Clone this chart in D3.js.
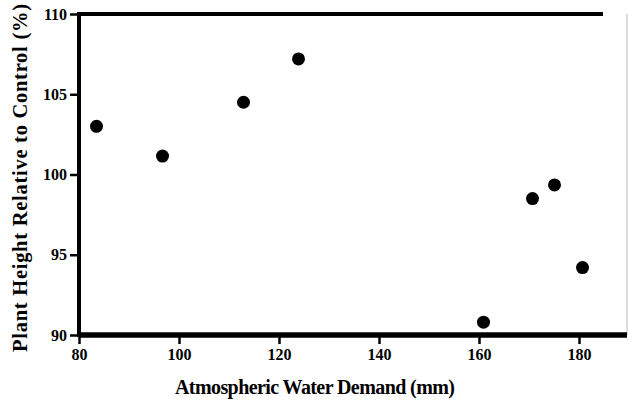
<!DOCTYPE html>
<html>
<head>
<meta charset="utf-8">
<script src="https://cdn.jsdelivr.net/npm/d3@7"></script>
<style>
  body { margin: 0; background: #fff; }
  text { font-family: "Liberation Serif", "DejaVu Serif", serif; font-weight: bold; fill: #000; }
</style>
</head>
<body>
<svg id="chart" width="629" height="404"></svg>
<script>
// atmospheric water demand (mm) and plant height relative to control (%)
var demand = [83.5, 96.7, 112.9, 123.9, 160.9, 170.7, 175.1, 180.7];
var plantHeight = [103.0, 101.15, 104.5, 107.2, 90.8, 98.5, 99.35, 94.2];
var xTicks = [80, 100, 120, 140, 160, 180];
var yTicks = [90, 95, 100, 105, 110];

var svg = d3.select("#chart");
var pLeft = 79, pRight = 627, pTop = 14, pBottom = 335;

var x = d3.scaleLinear().domain([80, 189.6]).range([pLeft, pRight]);
var y = d3.scaleLinear().domain([90, 110]).range([pBottom, pTop]);

// frame: faint right edge, heavy top
svg.append("line")
    .attr("x1", pRight).attr("x2", pRight)
    .attr("y1", pTop).attr("y2", pBottom)
    .attr("stroke", "#bbb").attr("stroke-width", 1);
svg.append("line")
    .attr("x1", pLeft).attr("x2", 603)
    .attr("y1", pTop).attr("y2", pTop)
    .attr("stroke", "#000").attr("stroke-width", 4);

function styleTicks(g){
  g.selectAll(".tick line").attr("stroke-width", 2.5);
  g.selectAll("text")
    .style("font-size", "16px")
    .style("font-family", "Liberation Serif, serif")
    .style("font-weight", "bold")
    .attr("fill", "#000");
}

var xAxis = svg.append("g")
    .attr("transform", "translate(0," + pBottom + ")")
    .call(d3.axisBottom(x).tickValues(xTicks).tickSize(9).tickPadding(5).tickFormat(d3.format("d")));
xAxis.select(".domain").attr("stroke-width", 5.5).attr("d", "M" + pLeft + ",0H" + pRight);
styleTicks(xAxis);

var yAxis = svg.append("g")
    .attr("transform", "translate(" + pLeft + ",0)")
    .call(d3.axisLeft(y).tickValues(yTicks).tickSize(9).tickPadding(3).tickFormat(d3.format("d")));
yAxis.select(".domain").attr("stroke-width", 4).attr("d", "M0," + (pTop - 2) + "V" + (pBottom + 2));
styleTicks(yAxis);

svg.append("g")
  .selectAll("circle")
  .data(demand)
  .enter()
  .append("circle")
    .attr("cx", function(d) { return x(d); })
    .attr("cy", function(d, i) { return y(plantHeight[i]); })
    .attr("r", 6.5)
    .attr("fill", "#000");

svg.append("text")
    .attr("x", 315).attr("y", 394)
    .attr("text-anchor", "middle")
    .attr("textLength", 280)
    .style("font-size", "20px")
    .text("Atmospheric Water Demand (mm)");

svg.append("text")
    .attr("transform", "translate(27,178) rotate(-90)")
    .attr("text-anchor", "middle")
    .attr("textLength", 348)
    .style("font-size", "20.5px")
    .text("Plant Height Relative to Control (%)");
</script>
</body>
</html>
